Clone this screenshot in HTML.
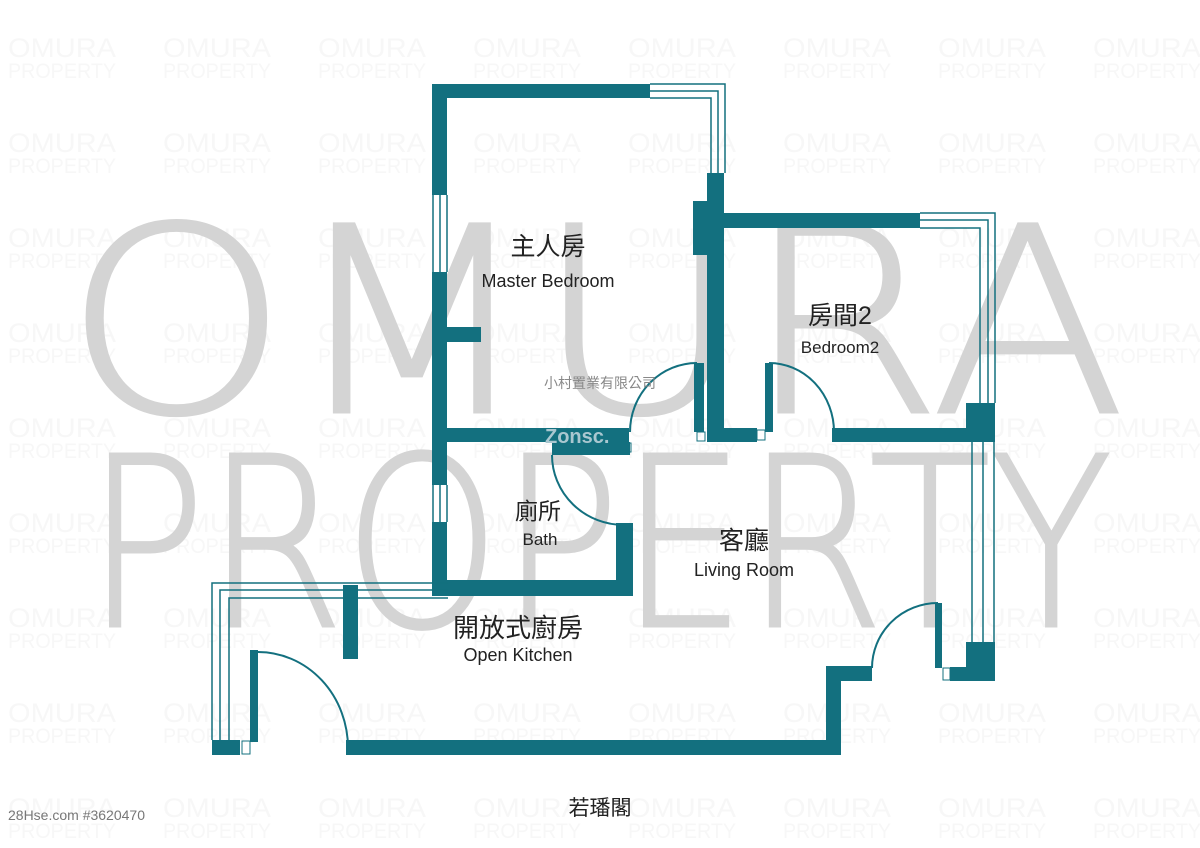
<!DOCTYPE html>
<html><head><meta charset="utf-8"><style>
html,body{margin:0;padding:0;background:#fff;}
svg{display:block;}
text{font-family:"Liberation Sans","Noto Sans CJK TC",sans-serif;}
.big{font-family:"DejaVu Sans","Liberation Sans",sans-serif;font-weight:200;}
</style></head><body>
<svg width="1200" height="848" viewBox="0 0 1200 848" xmlns="http://www.w3.org/2000/svg">
<defs>
<pattern id="wm" x="8" y="0" width="155" height="95" patternUnits="userSpaceOnUse">
<text x="0" y="57" font-size="27" fill="#f7f7f7" textLength="108" lengthAdjust="spacingAndGlyphs">OMURA</text>
<text x="0" y="78" font-size="21" fill="#f7f7f7" textLength="108" lengthAdjust="spacingAndGlyphs">PROPERTY</text>
</pattern>
</defs>
<rect width="1200" height="848" fill="#fff"/>
<rect width="1200" height="848" fill="url(#wm)"/>
<text class="big" x="64" y="412" font-size="258" fill="#d4d4d4" stroke="#d4d4d4" stroke-width="3" textLength="1062" lengthAdjust="spacingAndGlyphs">OMURA</text>
<text class="big" x="86" y="626" font-size="236" fill="#d4d4d4" stroke="#d4d4d4" stroke-width="3" textLength="1026" lengthAdjust="spacingAndGlyphs">PROPERTY</text>

<g fill="#13707f">
<rect x="432" y="84" width="218" height="14"/>
<rect x="432" y="84" width="15" height="111"/>
<rect x="432" y="272" width="15" height="213"/>
<rect x="432" y="522" width="15" height="74"/>
<rect x="447" y="327" width="34" height="15"/>
<rect x="707" y="173" width="17" height="269"/>
<rect x="693" y="201" width="31" height="54"/>
<rect x="447" y="428" width="182" height="14"/>
<rect x="694" y="363" width="10" height="69"/>
<rect x="724" y="213" width="196" height="15"/>
<rect x="724" y="428" width="33" height="14"/>
<rect x="765" y="363" width="8" height="69"/>
<rect x="832" y="428" width="163" height="14"/>
<rect x="966" y="403" width="29" height="39"/>
<rect x="552" y="442" width="78" height="13"/>
<rect x="616" y="523" width="17" height="73"/>
<rect x="432" y="580" width="201" height="16"/>
<rect x="343" y="585" width="15" height="74"/>
<rect x="250" y="650" width="8" height="92"/>
<rect x="212" y="740" width="28" height="15"/>
<rect x="346" y="740" width="495" height="15"/>
<rect x="826" y="666" width="15" height="89"/>
<rect x="826" y="666" width="46" height="15"/>
<rect x="935" y="603" width="7" height="65"/>
<rect x="966" y="642" width="29" height="39"/>
<rect x="950" y="667" width="45" height="14"/>
</g>

<g fill="none" stroke="#13707f" stroke-width="1.5">
<polyline points="650,84 725,84 725,173"/>
<polyline points="650,91 718,91 718,173"/>
<polyline points="650,98 711,98 711,173"/>
<polyline points="920,213 995,213 995,403"/>
<polyline points="920,220 988,220 988,403"/>
<polyline points="920,228 980,228 980,403"/>
<line x1="972" y1="442" x2="972" y2="642"/>
<line x1="983" y1="442" x2="983" y2="642"/>
<line x1="994" y1="442" x2="994" y2="642"/>
<polyline points="448,583 212,583 212,740"/>
<polyline points="448,590 220,590 220,740"/>
<polyline points="448,598 229,598 229,740"/>
<line x1="433" y1="195" x2="433" y2="272"/>
<line x1="440" y1="195" x2="440" y2="272"/>
<line x1="447" y1="195" x2="447" y2="272"/>
<line x1="433" y1="485" x2="433" y2="522"/>
<line x1="440" y1="485" x2="440" y2="522"/>
<line x1="447" y1="485" x2="447" y2="522"/>
<path d="M630,432 A67,69 0 0 1 697,363" stroke-width="2"/>
<path d="M769,363 A65,69 0 0 1 834,432" stroke-width="2"/>
<path d="M552,455 A72,70 0 0 0 624,525" stroke-width="2"/>
<path d="M258,652 A90,96 0 0 1 348,748" stroke-width="2"/>
<path d="M938,603 A66,65 0 0 0 872,668" stroke-width="2"/>
<rect x="242" y="741" width="8" height="13" stroke-width="1"/>
<rect x="943" y="668" width="7" height="12" stroke-width="1"/>
<rect x="697" y="432" width="8" height="9" stroke-width="1"/>
<rect x="757" y="430" width="8" height="10" stroke-width="1"/>
<rect x="624" y="443" width="7" height="9" stroke-width="1"/>
</g>

<g fill="#222" text-anchor="middle">
<text x="548" y="255" font-size="25">主人房</text>
<text x="548" y="287" font-size="18">Master Bedroom</text>
<text x="840" y="324" font-size="25">房間2</text>
<text x="840" y="353" font-size="17">Bedroom2</text>
<text x="538" y="519" font-size="23">廁所</text>
<text x="540" y="545" font-size="17">Bath</text>
<text x="744" y="549" font-size="25">客廳</text>
<text x="744" y="576" font-size="18">Living Room</text>
<text x="518" y="637" font-size="26">開放式廚房</text>
<text x="518" y="661" font-size="18">Open Kitchen</text>
<text x="600" y="815" font-size="21">若璠閣</text>
</g>
<text x="600" y="388" font-size="14" fill="#888" text-anchor="middle">小村置業有限公司</text>
<text x="545" y="443" font-size="20" font-weight="bold" fill="#a9c7d0">Zonsc.</text>
<text x="8" y="820" font-size="14" fill="#777">28Hse.com #3620470</text>
</svg>
</body></html>
